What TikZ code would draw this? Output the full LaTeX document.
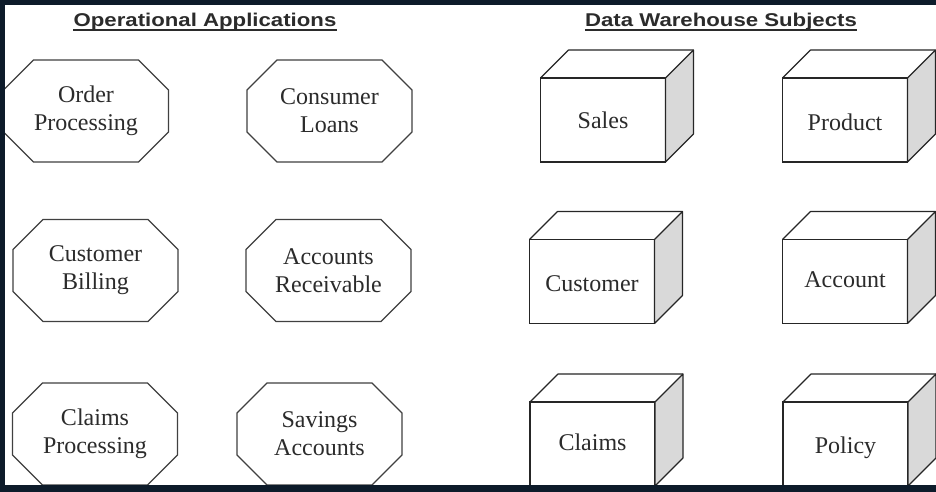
\documentclass[tikz,border=0pt]{standalone}
\usepackage{fontspec}
\setmainfont{Liberation Serif}
\newfontfamily\headfont[FakeStretch=1.2]{Liberation Sans}
\usepackage{tikz}
\usetikzlibrary{calc}
\definecolor{frameblue}{HTML}{0D1B2A}
\definecolor{inkgray}{HTML}{2B2B2B}
\definecolor{sidegray}{HTML}{D9D9D9}

\begin{document}
\begin{tikzpicture}[x=1pt, y=-1pt,
    head/.style={font=\headfont\bfseries\fontsize{18.5}{22}\selectfont, text=inkgray,
                 inner sep=0pt, anchor=base},
    uline/.style={draw=inkgray, line width=1.3pt},
    app/.style={minimum width=165pt, minimum height=102pt, inner sep=0pt, outer sep=0pt,
                align=center, text=inkgray, font=\fontsize{24}{28}\selectfont},
    octline/.style={draw=black!75, line width=1.1pt},
    subj/.style={draw=black!85, line width=1.1pt, fill=white, minimum width=125pt,
                 minimum height=84pt, inner sep=0pt, outer sep=0pt, text=inkgray,
                 text height=17pt, text depth=5pt, font=\fontsize{24}{28}\selectfont},
    cubeline/.style={draw=black!85, line width=1.1pt, line join=round}]

    \useasboundingbox (0,0) rectangle (936,492);
    \fill[white] (0,0) rectangle (936,492);

    % ============ headings ============
    \node[head] (OpHead) at (205,27) {Operational Applications};
    \node[head] (DwHead) at (721,27) {Data Warehouse Subjects};
    \draw[uline] ($(OpHead.base west)+(0,3)$) -- ($(OpHead.base east)+(0,3)$);
    \draw[uline] ($(DwHead.base west)+(0,3)$) -- ($(DwHead.base east)+(0,3)$);

    % ============ LEFT: operational applications ============
    \node[app] (OrderProc)  at (86,111)    {Order\\Processing};
    \node[app] (ConsLoans)  at (329.5,111) {Consumer\\Loans};
    \node[app] (CustBill)   at (95.5,270.5)  {Customer\\Billing};
    \node[app] (AcctRecv)   at (328.5,270.5) {Accounts\\Receivable};
    \node[app] (ClaimsProc) at (95,434)    {Claims\\Processing};
    \node[app] (SavAcct)    at (319.5,434) {Savings\\Accounts};

    % octagon outlines round the application nodes
    \foreach \n in {OrderProc,ConsLoans,CustBill,AcctRecv,ClaimsProc,SavAcct} {
      \draw[octline] ($(\n.north west)+(30,0)$) -- ($(\n.north east)+(-30,0)$)
        -- ($(\n.north east)+(0,30)$) -- ($(\n.south east)+(0,-30)$)
        -- ($(\n.south east)+(-30,0)$) -- ($(\n.south west)+(30,0)$)
        -- ($(\n.south west)+(0,-30)$) -- ($(\n.north west)+(0,30)$) -- cycle;
    }

    % ============ RIGHT: data warehouse subjects ============
    \node[subj] (Sales)    at (603,120)     {\raisebox{-2pt}{Sales}};
    \node[subj] (Product)  at (845,120)     {\raisebox{-4pt}{Product}};
    \node[subj] (Customer) at (592,281.5)   {\raisebox{-4pt}{Customer}};
    \node[subj] (Account)  at (845,281.5)   {Account};
    \node[subj] (Claims)   at (592.5,444)   {Claims};
    \node[subj] (Policy)   at (845.5,444)   {\raisebox{-3pt}{Policy}};

    % top and side faces of the cubes
    \foreach \c in {Sales,Product,Customer,Account,Claims,Policy} {
      \draw[cubeline, fill=sidegray] (\c.north east) -- ++(28,-28) -- ++(0,84)
        -- (\c.south east) -- cycle;
      \draw[cubeline] (\c.north west) -- ++(28,-28) -- ($(\c.north east)+(28,-28)$);
    }

    % dark frame on top, left and bottom
    \fill[frameblue] (0,0) rectangle (936,5);
    \fill[frameblue] (0,0) rectangle (5,492);
    \fill[frameblue] (0,485) rectangle (936,492);

\end{tikzpicture}
\end{document}
